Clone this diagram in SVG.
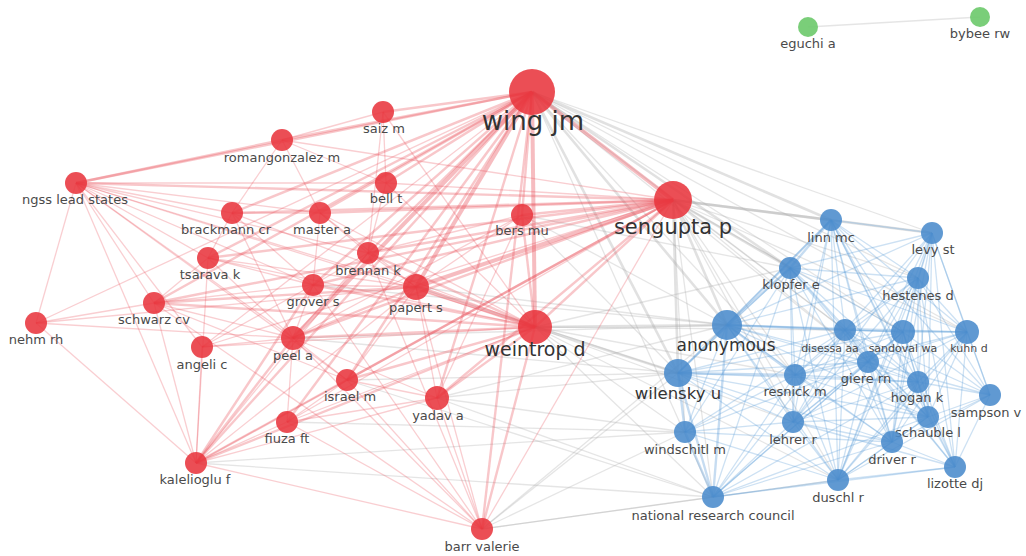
<svg xmlns="http://www.w3.org/2000/svg" width="1026" height="556" viewBox="0 0 1026 556">
<style>
.r1{stroke:#e8505a;stroke-opacity:.28;stroke-width:1.3;fill:none}
.r2{stroke:#e8505a;stroke-opacity:.32;stroke-width:2.4;fill:none}
.r3{stroke:#e8505a;stroke-opacity:.38;stroke-width:4;fill:none}
.b1{stroke:#5b9bd8;stroke-opacity:.3;stroke-width:1.3;fill:none}
.b2{stroke:#5b9bd8;stroke-opacity:.35;stroke-width:2.4;fill:none}
.g1{stroke:#a8a8a8;stroke-opacity:.3;stroke-width:1.3;fill:none}
.g2{stroke:#a8a8a8;stroke-opacity:.35;stroke-width:2.6;fill:none}
.rn{fill:#e8363d;fill-opacity:.88}
.bn{fill:#4a8bcc;fill-opacity:.88}
.gn{fill:#6cc96a;fill-opacity:.9}
text{font-family:"DejaVu Sans","Liberation Sans",sans-serif;text-anchor:middle;fill:#4a4a4a}
.lb{font-size:13px}
.sm{font-size:11px}
</style>
<rect width="1026" height="556" fill="#ffffff"/>
<g id="connectors">
<path class="g1" d="M808 27L980 17"/>
<path class="g2" d="M532 92L831 220"/><path class="g1" d="M532 92L932 233"/><path class="g2" d="M532 92L790 268"/><path class="g1" d="M532 92L918 278"/><path class="g2" d="M532 92L727 325"/><path class="g1" d="M532 92L845 330"/><path class="g2" d="M532 92L678 373"/><path class="g1" d="M532 92L795 375"/><path class="g1" d="M532 92L868 362"/><path class="g1" d="M532 92L713 497"/><path class="g1" d="M532 92L967 332"/><path class="g1" d="M532 92L903 332"/>
<path class="g2" d="M673 200L831 220"/><path class="g2" d="M673 200L932 233"/><path class="g2" d="M673 200L790 268"/><path class="g2" d="M673 200L727 325"/><path class="g1" d="M673 200L845 330"/><path class="g2" d="M673 200L678 373"/><path class="g1" d="M673 200L918 278"/><path class="g1" d="M673 200L795 375"/><path class="g1" d="M673 200L685 432"/><path class="g1" d="M673 200L713 497"/><path class="g1" d="M673 200L868 362"/><path class="g1" d="M673 200L967 332"/><path class="g1" d="M673 200L903 332"/><path class="g1" d="M673 200L793 422"/><path class="g1" d="M673 200L838 480"/>
<path class="g2" d="M535 327L727 325"/><path class="g2" d="M535 327L678 373"/><path class="g1" d="M535 327L685 432"/><path class="g1" d="M535 327L713 497"/><path class="g1" d="M535 327L795 375"/><path class="g1" d="M535 327L790 268"/><path class="g1" d="M535 327L793 422"/><path class="g1" d="M535 327L838 480"/><path class="g1" d="M535 327L845 330"/>
<path class="g1" d="M482 529L713 497"/><path class="g1" d="M482 529L678 373"/><path class="g1" d="M482 529L727 325"/><path class="g1" d="M482 529L685 432"/><path class="g1" d="M482 529L838 480"/>
<path class="g1" d="M437 398L678 373"/><path class="g1" d="M437 398L727 325"/><path class="g1" d="M437 398L713 497"/><path class="g1" d="M437 398L685 432"/>
<path class="g1" d="M416 287L727 325"/><path class="g1" d="M416 287L678 373"/><path class="g1" d="M347 380L678 373"/><path class="g1" d="M347 380L713 497"/><path class="g1" d="M293 338L678 373"/><path class="g1" d="M293 338L727 325"/><path class="g1" d="M196 463L713 497"/><path class="g1" d="M196 463L685 432"/><path class="g1" d="M287 422L685 432"/><path class="g1" d="M313 285L727 325"/><path class="g1" d="M522 215L727 325"/><path class="g1" d="M522 215L678 373"/><path class="g1" d="M522 215L790 268"/>
<path class="r3" d="M532 92L673 200"/><path class="r3" d="M532 92L535 327"/><path class="r3" d="M532 92L416 287"/><path class="r2" d="M532 92L368 253"/><path class="r2" d="M532 92L313 285"/><path class="r3" d="M532 92L293 338"/><path class="r2" d="M532 92L437 398"/><path class="r2" d="M532 92L347 380"/><path class="r2" d="M532 92L522 215"/><path class="r2" d="M532 92L386 183"/><path class="r2" d="M532 92L383 112"/><path class="r2" d="M532 92L282 140"/><path class="r2" d="M532 92L76 183"/><path class="r2" d="M532 92L232 213"/><path class="r2" d="M532 92L320 213"/><path class="r2" d="M532 92L208 258"/><path class="r2" d="M532 92L154 303"/><path class="r1" d="M532 92L202 347"/><path class="r2" d="M532 92L287 422"/><path class="r2" d="M532 92L196 463"/><path class="r2" d="M532 92L482 529"/><path class="r1" d="M532 92L36 323"/>
<path class="r2" d="M673 200L76 183"/><path class="r1" d="M673 200L282 140"/><path class="r1" d="M673 200L386 183"/><path class="r2" d="M673 200L232 213"/><path class="r2" d="M673 200L320 213"/><path class="r2" d="M673 200L522 215"/><path class="r2" d="M673 200L208 258"/><path class="r2" d="M673 200L368 253"/><path class="r2" d="M673 200L313 285"/><path class="r3" d="M673 200L416 287"/><path class="r2" d="M673 200L154 303"/><path class="r2" d="M673 200L293 338"/><path class="r2" d="M673 200L347 380"/><path class="r2" d="M673 200L437 398"/><path class="r1" d="M673 200L287 422"/><path class="r2" d="M673 200L196 463"/><path class="r1" d="M673 200L482 529"/><path class="r2" d="M673 200L535 327"/><path class="r1" d="M673 200L202 347"/>
<path class="r1" d="M535 327L76 183"/><path class="r1" d="M535 327L383 112"/><path class="r1" d="M535 327L232 213"/><path class="r1" d="M535 327L320 213"/><path class="r2" d="M535 327L368 253"/><path class="r2" d="M535 327L313 285"/><path class="r3" d="M535 327L416 287"/><path class="r2" d="M535 327L154 303"/><path class="r2" d="M535 327L293 338"/><path class="r2" d="M535 327L347 380"/><path class="r2" d="M535 327L437 398"/><path class="r1" d="M535 327L287 422"/><path class="r2" d="M535 327L196 463"/><path class="r2" d="M535 327L482 529"/><path class="r1" d="M535 327L208 258"/><path class="r1" d="M535 327L202 347"/><path class="r1" d="M535 327L386 183"/><path class="r2" d="M535 327L522 215"/>
<path class="r1" d="M282 140L232 213"/><path class="r1" d="M282 140L320 213"/><path class="r1" d="M282 140L383 112"/><path class="r1" d="M282 140L386 183"/><path class="r1" d="M383 112L386 183"/><path class="r1" d="M383 112L368 253"/><path class="r1" d="M386 183L368 253"/><path class="r1" d="M232 213L320 213"/><path class="r1" d="M232 213L208 258"/><path class="r1" d="M232 213L313 285"/><path class="r1" d="M232 213L293 338"/><path class="r1" d="M320 213L368 253"/><path class="r1" d="M320 213L313 285"/><path class="r1" d="M320 213L416 287"/><path class="r1" d="M208 258L313 285"/><path class="r1" d="M208 258L416 287"/><path class="r1" d="M208 258L293 338"/><path class="r1" d="M208 258L154 303"/><path class="r1" d="M313 285L416 287"/><path class="r1" d="M313 285L293 338"/><path class="r1" d="M313 285L368 253"/><path class="r2" d="M416 287L293 338"/><path class="r1" d="M416 287L437 398"/><path class="r1" d="M416 287L347 380"/><path class="r1" d="M368 253L416 287"/><path class="r1" d="M368 253L293 338"/><path class="r1" d="M154 303L313 285"/><path class="r1" d="M154 303L293 338"/><path class="r2" d="M154 303L416 287"/><path class="r1" d="M154 303L347 380"/><path class="r1" d="M293 338L347 380"/><path class="r1" d="M293 338L437 398"/><path class="r1" d="M293 338L287 422"/><path class="r1" d="M347 380L437 398"/><path class="r1" d="M287 422L437 398"/><path class="r1" d="M287 422L347 380"/><path class="r1" d="M202 347L293 338"/><path class="r1" d="M202 347L313 285"/><path class="r1" d="M522 215L416 287"/><path class="r1" d="M522 215L437 398"/><path class="r1" d="M522 215L293 338"/><path class="r1" d="M522 215L368 253"/>
<path class="r2" d="M76 183L282 140"/><path class="r1" d="M76 183L232 213"/><path class="r1" d="M76 183L320 213"/><path class="r1" d="M76 183L208 258"/><path class="r1" d="M76 183L368 253"/><path class="r1" d="M76 183L313 285"/><path class="r1" d="M76 183L416 287"/><path class="r1" d="M76 183L154 303"/><path class="r1" d="M76 183L36 323"/><path class="r1" d="M76 183L196 463"/><path class="r1" d="M76 183L293 338"/><path class="r1" d="M76 183L347 380"/><path class="r1" d="M76 183L202 347"/><path class="r1" d="M76 183L386 183"/>
<path class="r1" d="M36 323L154 303"/><path class="r1" d="M36 323L293 338"/><path class="r1" d="M36 323L196 463"/><path class="r1" d="M36 323L416 287"/>
<path class="r1" d="M196 463L154 303"/><path class="r2" d="M196 463L293 338"/><path class="r1" d="M196 463L347 380"/><path class="r1" d="M196 463L287 422"/><path class="r2" d="M196 463L313 285"/><path class="r1" d="M196 463L368 253"/><path class="r1" d="M196 463L416 287"/><path class="r1" d="M196 463L437 398"/><path class="r1" d="M196 463L482 529"/><path class="r1" d="M196 463L208 258"/><path class="r1" d="M196 463L202 347"/>
<path class="r1" d="M482 529L437 398"/><path class="r1" d="M482 529L347 380"/><path class="r1" d="M482 529L293 338"/><path class="r1" d="M482 529L287 422"/><path class="r1" d="M482 529L313 285"/><path class="r1" d="M482 529L416 287"/><path class="r1" d="M482 529L154 303"/><path class="r1" d="M482 529L368 253"/>
<path class="b1" d="M831 220L932 233"/><path class="b2" d="M831 220L790 268"/><path class="b1" d="M831 220L918 278"/><path class="b2" d="M831 220L727 325"/><path class="b1" d="M831 220L845 330"/><path class="b1" d="M831 220L903 332"/><path class="b1" d="M831 220L967 332"/><path class="b1" d="M831 220L868 362"/><path class="b1" d="M831 220L795 375"/><path class="b1" d="M831 220L918 382"/><path class="b1" d="M831 220L990 395"/><path class="b1" d="M831 220L928 417"/><path class="b1" d="M831 220L892 442"/><path class="b1" d="M831 220L955 467"/><path class="b1" d="M831 220L838 480"/><path class="b1" d="M831 220L678 373"/><path class="b1" d="M831 220L793 422"/>
<path class="b1" d="M932 233L790 268"/><path class="b1" d="M932 233L918 278"/><path class="b1" d="M932 233L727 325"/><path class="b1" d="M932 233L845 330"/><path class="b1" d="M932 233L903 332"/><path class="b1" d="M932 233L967 332"/><path class="b1" d="M932 233L868 362"/><path class="b1" d="M932 233L918 382"/><path class="b1" d="M932 233L990 395"/><path class="b1" d="M932 233L928 417"/><path class="b1" d="M932 233L892 442"/><path class="b1" d="M932 233L955 467"/><path class="b1" d="M932 233L838 480"/><path class="b1" d="M932 233L793 422"/>
<path class="b1" d="M790 268L918 278"/><path class="b2" d="M790 268L727 325"/><path class="b1" d="M790 268L845 330"/><path class="b1" d="M790 268L903 332"/><path class="b1" d="M790 268L967 332"/><path class="b1" d="M790 268L868 362"/><path class="b1" d="M790 268L795 375"/><path class="b1" d="M790 268L918 382"/><path class="b1" d="M790 268L928 417"/><path class="b1" d="M790 268L892 442"/><path class="b1" d="M790 268L838 480"/><path class="b1" d="M790 268L713 497"/><path class="b1" d="M790 268L685 432"/><path class="b1" d="M790 268L793 422"/><path class="b1" d="M790 268L678 373"/>
<path class="b1" d="M918 278L727 325"/><path class="b1" d="M918 278L845 330"/><path class="b1" d="M918 278L903 332"/><path class="b1" d="M918 278L967 332"/><path class="b1" d="M918 278L868 362"/><path class="b1" d="M918 278L795 375"/><path class="b1" d="M918 278L918 382"/><path class="b1" d="M918 278L990 395"/><path class="b1" d="M918 278L928 417"/><path class="b1" d="M918 278L892 442"/><path class="b1" d="M918 278L955 467"/><path class="b1" d="M918 278L838 480"/><path class="b1" d="M918 278L793 422"/>
<path class="b2" d="M727 325L845 330"/><path class="b1" d="M727 325L903 332"/><path class="b1" d="M727 325L967 332"/><path class="b1" d="M727 325L868 362"/><path class="b2" d="M727 325L795 375"/><path class="b1" d="M727 325L918 382"/><path class="b1" d="M727 325L928 417"/><path class="b1" d="M727 325L892 442"/><path class="b1" d="M727 325L838 480"/><path class="b2" d="M727 325L713 497"/><path class="b1" d="M727 325L685 432"/><path class="b1" d="M727 325L793 422"/><path class="b2" d="M727 325L678 373"/>
<path class="b1" d="M845 330L903 332"/><path class="b1" d="M845 330L967 332"/><path class="b1" d="M845 330L868 362"/><path class="b1" d="M845 330L795 375"/><path class="b1" d="M845 330L918 382"/><path class="b1" d="M845 330L990 395"/><path class="b1" d="M845 330L928 417"/><path class="b1" d="M845 330L892 442"/><path class="b1" d="M845 330L955 467"/><path class="b1" d="M845 330L838 480"/><path class="b1" d="M845 330L713 497"/><path class="b1" d="M845 330L685 432"/><path class="b1" d="M845 330L793 422"/><path class="b1" d="M845 330L678 373"/>
<path class="b1" d="M903 332L967 332"/><path class="b1" d="M903 332L868 362"/><path class="b1" d="M903 332L795 375"/><path class="b1" d="M903 332L918 382"/><path class="b1" d="M903 332L990 395"/><path class="b1" d="M903 332L928 417"/><path class="b1" d="M903 332L892 442"/><path class="b1" d="M903 332L955 467"/><path class="b1" d="M903 332L838 480"/><path class="b1" d="M903 332L713 497"/><path class="b1" d="M903 332L793 422"/><path class="b1" d="M903 332L678 373"/>
<path class="b1" d="M967 332L868 362"/><path class="b1" d="M967 332L795 375"/><path class="b1" d="M967 332L918 382"/><path class="b1" d="M967 332L990 395"/><path class="b1" d="M967 332L928 417"/><path class="b1" d="M967 332L892 442"/><path class="b1" d="M967 332L955 467"/><path class="b1" d="M967 332L838 480"/><path class="b1" d="M967 332L793 422"/>
<path class="b1" d="M868 362L795 375"/><path class="b1" d="M868 362L918 382"/><path class="b1" d="M868 362L990 395"/><path class="b1" d="M868 362L928 417"/><path class="b1" d="M868 362L892 442"/><path class="b1" d="M868 362L955 467"/><path class="b1" d="M868 362L838 480"/><path class="b1" d="M868 362L713 497"/><path class="b1" d="M868 362L685 432"/><path class="b1" d="M868 362L793 422"/><path class="b1" d="M868 362L678 373"/>
<path class="b1" d="M795 375L918 382"/><path class="b1" d="M795 375L928 417"/><path class="b1" d="M795 375L892 442"/><path class="b1" d="M795 375L838 480"/><path class="b1" d="M795 375L713 497"/><path class="b1" d="M795 375L685 432"/><path class="b1" d="M795 375L793 422"/><path class="b2" d="M795 375L678 373"/>
<path class="b1" d="M918 382L990 395"/><path class="b1" d="M918 382L928 417"/><path class="b1" d="M918 382L892 442"/><path class="b1" d="M918 382L955 467"/><path class="b1" d="M918 382L838 480"/><path class="b1" d="M918 382L713 497"/><path class="b1" d="M918 382L793 422"/><path class="b1" d="M918 382L678 373"/>
<path class="b1" d="M990 395L928 417"/><path class="b1" d="M990 395L892 442"/><path class="b1" d="M990 395L955 467"/><path class="b1" d="M990 395L838 480"/>
<path class="b1" d="M928 417L892 442"/><path class="b1" d="M928 417L955 467"/><path class="b1" d="M928 417L838 480"/><path class="b1" d="M928 417L713 497"/><path class="b1" d="M928 417L793 422"/><path class="b1" d="M928 417L678 373"/>
<path class="b1" d="M892 442L955 467"/><path class="b1" d="M892 442L838 480"/><path class="b1" d="M892 442L713 497"/><path class="b1" d="M892 442L685 432"/><path class="b1" d="M892 442L793 422"/><path class="b1" d="M892 442L678 373"/>
<path class="b1" d="M955 467L838 480"/><path class="b1" d="M955 467L713 497"/><path class="b1" d="M955 467L793 422"/>
<path class="b1" d="M838 480L713 497"/><path class="b1" d="M838 480L685 432"/><path class="b1" d="M838 480L793 422"/><path class="b1" d="M838 480L678 373"/>
<path class="b2" d="M713 497L685 432"/><path class="b1" d="M713 497L793 422"/><path class="b2" d="M713 497L678 373"/>
<path class="b1" d="M685 432L793 422"/><path class="b2" d="M685 432L678 373"/><path class="b1" d="M793 422L678 373"/>
</g>
<g id="node-wing-jm"><circle class="rn" cx="532" cy="92" r="23"/><text x="533" y="130" style="font-size:26px;fill:#333">wing jm</text></g>
<g id="node-sengupta-p"><circle class="rn" cx="673" cy="200" r="19"/><text x="673" y="234" style="font-size:21px;fill:#333">sengupta p</text></g>
<g id="node-weintrop-d"><circle class="rn" cx="535" cy="327" r="17"/><text x="535" y="356" style="font-size:19px;fill:#333">weintrop d</text></g>
<g id="node-saiz-m"><circle class="rn" cx="383" cy="112" r="11"/><text class="lb" x="384" y="133">saiz m</text></g>
<g id="node-romangonzalez-m"><circle class="rn" cx="282" cy="140" r="11"/><text class="lb" x="282" y="162">romangonzalez m</text></g>
<g id="node-ngss-lead-states"><circle class="rn" cx="76" cy="183" r="11"/><text class="lb" x="75" y="204">ngss lead states</text></g>
<g id="node-bell-t"><circle class="rn" cx="386" cy="183" r="11"/><text class="lb" x="386" y="203">bell t</text></g>
<g id="node-brackmann-cr"><circle class="rn" cx="232" cy="213" r="11"/><text class="lb" x="226" y="234">brackmann cr</text></g>
<g id="node-master-a"><circle class="rn" cx="320" cy="213" r="11"/><text class="lb" x="322" y="234">master a</text></g>
<g id="node-bers-mu"><circle class="rn" cx="522" cy="215" r="11"/><text class="lb" x="522" y="235">bers mu</text></g>
<g id="node-tsarava-k"><circle class="rn" cx="208" cy="258" r="11"/><text class="lb" x="210" y="279">tsarava k</text></g>
<g id="node-brennan-k"><circle class="rn" cx="368" cy="253" r="11"/><text class="lb" x="368" y="275">brennan k</text></g>
<g id="node-grover-s"><circle class="rn" cx="313" cy="285" r="11"/><text class="lb" x="313" y="306">grover s</text></g>
<g id="node-papert-s"><circle class="rn" cx="416" cy="287" r="13"/><text class="lb" x="416" y="312">papert s</text></g>
<g id="node-schwarz-cv"><circle class="rn" cx="154" cy="303" r="11"/><text class="lb" x="154" y="324">schwarz cv</text></g>
<g id="node-nehm-rh"><circle class="rn" cx="36" cy="323" r="11"/><text class="lb" x="36" y="344">nehm rh</text></g>
<g id="node-angeli-c"><circle class="rn" cx="202" cy="347" r="11"/><text class="lb" x="202" y="369">angeli c</text></g>
<g id="node-peel-a"><circle class="rn" cx="293" cy="338" r="12"/><text class="lb" x="293" y="360">peel a</text></g>
<g id="node-israel-m"><circle class="rn" cx="347" cy="380" r="11"/><text class="lb" x="350" y="401">israel m</text></g>
<g id="node-yadav-a"><circle class="rn" cx="437" cy="398" r="12"/><text class="lb" x="438" y="420">yadav a</text></g>
<g id="node-fiuza-ft"><circle class="rn" cx="287" cy="422" r="11"/><text class="lb" x="287" y="443">fiuza ft</text></g>
<g id="node-kalelioglu-f"><circle class="rn" cx="196" cy="463" r="11"/><text class="lb" x="195" y="484">kalelioglu f</text></g>
<g id="node-barr-valerie"><circle class="rn" cx="482" cy="529" r="11"/><text class="lb" x="482" y="551">barr valerie</text></g>
<g id="node-linn-mc"><circle class="bn" cx="831" cy="220" r="11"/><text class="lb" x="831" y="242">linn mc</text></g>
<g id="node-levy-st"><circle class="bn" cx="932" cy="233" r="11"/><text class="lb" x="933" y="254">levy st</text></g>
<g id="node-klopfer-e"><circle class="bn" cx="790" cy="268" r="11"/><text class="lb" x="791" y="289">klopfer e</text></g>
<g id="node-hestenes-d"><circle class="bn" cx="918" cy="278" r="11"/><text class="lb" x="918" y="300">hestenes d</text></g>
<g id="node-anonymous"><circle class="bn" cx="727" cy="325" r="15"/><text x="726" y="351" style="font-size:17px;fill:#333">anonymous</text></g>
<g id="node-disessa-aa"><circle class="bn" cx="845" cy="330" r="11"/><text class="sm" x="830" y="352">disessa aa</text></g>
<g id="node-sandoval-wa"><circle class="bn" cx="903" cy="332" r="12"/><text class="sm" x="903" y="352">sandoval wa</text></g>
<g id="node-kuhn-d"><circle class="bn" cx="967" cy="332" r="12"/><text class="sm" x="969" y="352">kuhn d</text></g>
<g id="node-giere-rn"><circle class="bn" cx="868" cy="362" r="11"/><text class="lb" x="866" y="383">giere rn</text></g>
<g id="node-resnick-m"><circle class="bn" cx="795" cy="375" r="11"/><text class="lb" x="795" y="396">resnick m</text></g>
<g id="node-hogan-k"><circle class="bn" cx="918" cy="382" r="11"/><text class="lb" x="917" y="402">hogan k</text></g>
<g id="node-sampson-v"><circle class="bn" cx="990" cy="395" r="11"/><text class="lb" x="986" y="417">sampson v</text></g>
<g id="node-schauble-l"><circle class="bn" cx="928" cy="417" r="11"/><text class="lb" x="928" y="437">schauble l</text></g>
<g id="node-driver-r"><circle class="bn" cx="892" cy="442" r="11"/><text class="lb" x="892" y="464">driver r</text></g>
<g id="node-lizotte-dj"><circle class="bn" cx="955" cy="467" r="11"/><text class="lb" x="955" y="488">lizotte dj</text></g>
<g id="node-duschl-r"><circle class="bn" cx="838" cy="480" r="11"/><text class="lb" x="838" y="502">duschl r</text></g>
<g id="node-national-research-council"><circle class="bn" cx="713" cy="497" r="11"/><text class="lb" x="713" y="520">national research council</text></g>
<g id="node-windschitl-m"><circle class="bn" cx="685" cy="432" r="11"/><text class="lb" x="685" y="454">windschitl m</text></g>
<g id="node-lehrer-r"><circle class="bn" cx="793" cy="422" r="11"/><text class="lb" x="793" y="444">lehrer r</text></g>
<g id="node-wilensky-u"><circle class="bn" cx="678" cy="373" r="14"/><text x="678" y="399" style="font-size:16.5px;fill:#333">wilensky u</text></g>
<g id="node-eguchi-a"><circle class="gn" cx="808" cy="27" r="10"/><text class="lb" x="808" y="48">eguchi a</text></g>
<g id="node-bybee-rw"><circle class="gn" cx="980" cy="17" r="10"/><text class="lb" x="980" y="38">bybee rw</text></g>
</svg>
